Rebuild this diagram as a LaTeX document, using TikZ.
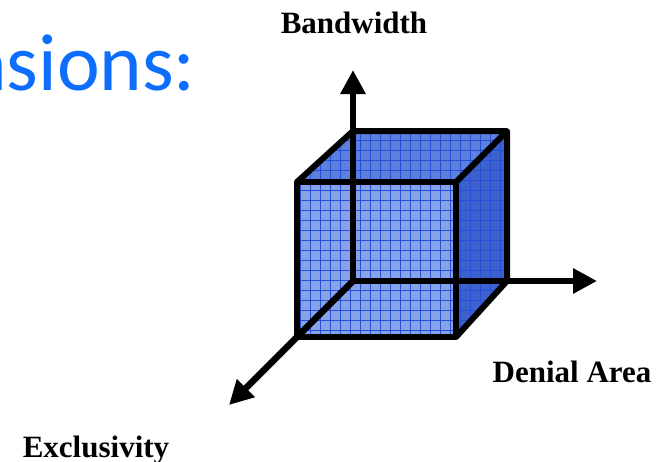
\documentclass[tikz,border=0pt]{standalone}
\usepackage{xcolor}
\usepackage{fontspec}
\setmainfont{Liberation Serif}
\newfontfamily\slidefont{Carlito}
\usepackage{tikz}
\usetikzlibrary{arrows.meta}

\definecolor{frontblue}{RGB}{135,163,232}
\definecolor{topblue}{RGB}{92,128,222}
\definecolor{sideblue}{RGB}{62,98,205}
\definecolor{gridblue}{RGB}{40,80,215}
\definecolor{titleblue}{RGB}{13,110,253}

\tikzset{
  cubeedge/.style={line width=6pt, line join=round},
  gridline/.style={gridblue, line width=0.8pt},
  axisarrow/.style={line width=6.5pt, -{Triangle[length=24pt,width=24pt]}},
  axislabel/.style={inner sep=0pt, anchor=base, font=\fontsize{31}{36}\selectfont\bfseries}
}

\begin{document}
\begin{tikzpicture}[x=1pt, y=-1pt]
  \useasboundingbox (0,0) rectangle (666,461);

  \coordinate (O) at (353,281);
  \coordinate (BTL) at (353,131);
  \coordinate (BTR) at (507,131);
  \coordinate (BBR) at (507,281);
  \coordinate (FTL) at (297,182);
  \coordinate (FTR) at (456,182);
  \coordinate (FBR) at (456,337);
  \coordinate (FBL) at (297,337);
  \coordinate (up) at (353,70);
  \coordinate (right) at (597,281);
  \coordinate (down) at (229,405);

  \node[inner sep=0pt, anchor=base east, text=titleblue, font=\slidefont\fontsize{81}{90}\selectfont] (title) at (196,90) {nsions:};

  % faces
  \begin{scope}
    \clip (FTL) -- (BTL) -- (BTR) -- (FTR) -- cycle;
    \fill[topblue] (290,120) rectangle (520,190);
    \draw[gridline, step=10pt] (290,120) grid (520,190);
  \end{scope}
  \begin{scope}
    \clip (FTR) -- (BTR) -- (BBR) -- (FBR) -- cycle;
    \fill[sideblue] (450,120) rectangle (520,345);
    \draw[gridline, step=10pt] (450,120) grid (520,345);
  \end{scope}
  \begin{scope}
    \clip (FTL) rectangle (FBR);
    \fill[frontblue] (290,175) rectangle (465,345);
    \draw[gridline, step=10pt] (290,175) grid (465,345);
  \end{scope}

  % edges
  \draw[cubeedge] (FTL) rectangle (FBR);
  \draw[cubeedge] (FTL) -- (BTL) -- (BTR) -- (FTR);
  \draw[cubeedge] (BTR) -- (BBR) -- (FBR);

  % axes
  \draw[axisarrow] (O) -- (up);
  \draw[axisarrow] (O) -- (right);
  \draw[axisarrow] (O) -- (down);

  \node[axislabel] (bandwidth) at (354,33) {Bandwidth};
  \node[axislabel] (denial) at (572,382) {Denial Area};
  \node[axislabel] (exclusivity) at (96,457) {Exclusivity};
\end{tikzpicture}
\end{document}
